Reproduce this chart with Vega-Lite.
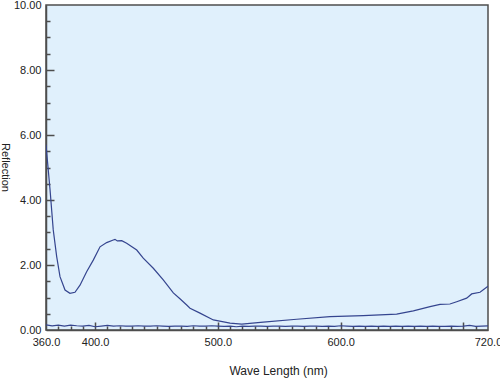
{
  "$schema": "https://vega.github.io/schema/vega-lite/v6.json",
  "width": 442,
  "height": 325,
  "autosize": {"type": "none"},
  "padding": {"left": 46, "top": 5, "right": 12, "bottom": 48},
  "background": "white",
  "config": {
    "view": {"fill": "#e0f0fc", "stroke": "#4d4d4d", "strokeWidth": 1.5},
    "font": "Liberation Sans",
    "axis": {
      "labelFont": "Liberation Sans",
      "titleFont": "Liberation Sans",
      "labelFontSize": 11,
      "titleFontSize": 11,
      "titleFontWeight": "normal",
      "labelColor": "#222222",
      "titleColor": "#222222",
      "labelFlush": false,
      "labelOverlap": false,
      "grid": false,
      "domainColor": "#4d4d4d",
      "domainWidth": 1.5,
      "tickColor": "#4d4d4d",
      "tickWidth": 1.5
    }
  },
  "data": {
    "values": [
      {"s": "a", "nm": 360, "v": 5.7},
      {"s": "a", "nm": 363.3, "v": 4.31},
      {"s": "a", "nm": 365.9, "v": 3.08},
      {"s": "a", "nm": 368.7, "v": 2.26},
      {"s": "a", "nm": 371.4, "v": 1.64},
      {"s": "a", "nm": 375.5, "v": 1.23},
      {"s": "a", "nm": 379.5, "v": 1.13},
      {"s": "a", "nm": 383.6, "v": 1.16},
      {"s": "a", "nm": 387.7, "v": 1.38},
      {"s": "a", "nm": 393.1, "v": 1.79},
      {"s": "a", "nm": 398.5, "v": 2.15},
      {"s": "a", "nm": 404.0, "v": 2.56},
      {"s": "a", "nm": 409.4, "v": 2.69},
      {"s": "a", "nm": 414.8, "v": 2.77},
      {"s": "a", "nm": 416.2, "v": 2.79},
      {"s": "a", "nm": 418.1, "v": 2.74},
      {"s": "a", "nm": 421.7, "v": 2.75},
      {"s": "a", "nm": 425.7, "v": 2.67},
      {"s": "a", "nm": 433.9, "v": 2.46},
      {"s": "a", "nm": 439.2, "v": 2.21},
      {"s": "a", "nm": 447.4, "v": 1.9},
      {"s": "a", "nm": 455.5, "v": 1.54},
      {"s": "a", "nm": 463.7, "v": 1.14},
      {"s": "a", "nm": 469.1, "v": 0.96},
      {"s": "a", "nm": 474.6, "v": 0.77},
      {"s": "a", "nm": 477.3, "v": 0.67},
      {"s": "a", "nm": 485.4, "v": 0.52},
      {"s": "a", "nm": 496.3, "v": 0.31},
      {"s": "a", "nm": 509.9, "v": 0.21},
      {"s": "a", "nm": 519.4, "v": 0.18},
      {"s": "a", "nm": 537.0, "v": 0.24},
      {"s": "a", "nm": 564.2, "v": 0.33},
      {"s": "a", "nm": 591.3, "v": 0.41},
      {"s": "a", "nm": 618.4, "v": 0.44},
      {"s": "a", "nm": 645.6, "v": 0.49},
      {"s": "a", "nm": 659.2, "v": 0.59},
      {"s": "a", "nm": 672.8, "v": 0.72},
      {"s": "a", "nm": 680.9, "v": 0.79},
      {"s": "a", "nm": 689.0, "v": 0.8},
      {"s": "a", "nm": 694.5, "v": 0.87},
      {"s": "a", "nm": 702.6, "v": 0.98},
      {"s": "a", "nm": 706.7, "v": 1.11},
      {"s": "a", "nm": 713.5, "v": 1.16},
      {"s": "a", "nm": 720, "v": 1.35},
      {"s": "b", "nm": 360, "v": 0.16},
      {"s": "b", "nm": 365, "v": 0.13},
      {"s": "b", "nm": 370, "v": 0.15},
      {"s": "b", "nm": 375, "v": 0.12},
      {"s": "b", "nm": 380, "v": 0.15},
      {"s": "b", "nm": 385, "v": 0.13},
      {"s": "b", "nm": 390, "v": 0.12},
      {"s": "b", "nm": 395, "v": 0.14},
      {"s": "b", "nm": 400, "v": 0.1},
      {"s": "b", "nm": 405, "v": 0.12},
      {"s": "b", "nm": 410, "v": 0.14},
      {"s": "b", "nm": 415, "v": 0.12},
      {"s": "b", "nm": 420, "v": 0.13},
      {"s": "b", "nm": 425, "v": 0.12},
      {"s": "b", "nm": 430, "v": 0.12},
      {"s": "b", "nm": 435, "v": 0.13},
      {"s": "b", "nm": 440, "v": 0.12},
      {"s": "b", "nm": 445, "v": 0.12},
      {"s": "b", "nm": 450, "v": 0.13},
      {"s": "b", "nm": 455, "v": 0.12},
      {"s": "b", "nm": 460, "v": 0.11},
      {"s": "b", "nm": 465, "v": 0.12},
      {"s": "b", "nm": 470, "v": 0.12},
      {"s": "b", "nm": 475, "v": 0.11},
      {"s": "b", "nm": 480, "v": 0.13},
      {"s": "b", "nm": 485, "v": 0.12},
      {"s": "b", "nm": 490, "v": 0.12},
      {"s": "b", "nm": 495, "v": 0.13},
      {"s": "b", "nm": 500, "v": 0.12},
      {"s": "b", "nm": 505, "v": 0.11},
      {"s": "b", "nm": 510, "v": 0.12},
      {"s": "b", "nm": 515, "v": 0.1},
      {"s": "b", "nm": 520, "v": 0.12},
      {"s": "b", "nm": 525, "v": 0.11},
      {"s": "b", "nm": 530, "v": 0.12},
      {"s": "b", "nm": 535, "v": 0.12},
      {"s": "b", "nm": 540, "v": 0.11},
      {"s": "b", "nm": 545, "v": 0.12},
      {"s": "b", "nm": 550, "v": 0.12},
      {"s": "b", "nm": 555, "v": 0.11},
      {"s": "b", "nm": 560, "v": 0.12},
      {"s": "b", "nm": 565, "v": 0.12},
      {"s": "b", "nm": 570, "v": 0.11},
      {"s": "b", "nm": 575, "v": 0.12},
      {"s": "b", "nm": 580, "v": 0.12},
      {"s": "b", "nm": 585, "v": 0.11},
      {"s": "b", "nm": 590, "v": 0.12},
      {"s": "b", "nm": 595, "v": 0.11},
      {"s": "b", "nm": 600, "v": 0.13},
      {"s": "b", "nm": 605, "v": 0.12},
      {"s": "b", "nm": 610, "v": 0.11},
      {"s": "b", "nm": 615, "v": 0.12},
      {"s": "b", "nm": 620, "v": 0.11},
      {"s": "b", "nm": 625, "v": 0.12},
      {"s": "b", "nm": 630, "v": 0.11},
      {"s": "b", "nm": 635, "v": 0.12},
      {"s": "b", "nm": 640, "v": 0.11},
      {"s": "b", "nm": 645, "v": 0.12},
      {"s": "b", "nm": 650, "v": 0.11},
      {"s": "b", "nm": 655, "v": 0.12},
      {"s": "b", "nm": 660, "v": 0.11},
      {"s": "b", "nm": 665, "v": 0.12},
      {"s": "b", "nm": 670, "v": 0.11},
      {"s": "b", "nm": 675, "v": 0.12},
      {"s": "b", "nm": 680, "v": 0.11},
      {"s": "b", "nm": 685, "v": 0.11},
      {"s": "b", "nm": 690, "v": 0.12},
      {"s": "b", "nm": 695, "v": 0.11},
      {"s": "b", "nm": 700, "v": 0.12},
      {"s": "b", "nm": 705, "v": 0.14},
      {"s": "b", "nm": 710, "v": 0.11},
      {"s": "b", "nm": 715, "v": 0.12},
      {"s": "b", "nm": 720, "v": 0.13}
    ]
  },
  "layer": [
    {
      "mark": {"type": "line", "opacity": 0},
      "encoding": {
        "x": {"field": "nm", "type": "quantitative", "scale": {"domain": [360, 720], "nice": false, "zero": false},
              "axis": {"orient": "bottom", "values": [370,380,390,410,420,430,440,450,460,470,480,490,510,520,530,540,550,560,570,580,590,610,620,630,640,650,660,670,680,690,710], "labels": false, "domain": false, "ticks": true, "tickSize": -4, "title": null}},
        "y": {"field": "v", "type": "quantitative", "scale": {"domain": [0, 10], "nice": false},
              "axis": {"orient": "left", "values": [0.5,1,1.5,2.5,3,3.5,4.5,5,5.5,6.5,7,7.5,8.5,9,9.5], "labels": false, "domain": false, "ticks": true, "tickSize": -4, "title": null}},
        "detail": {"field": "s"}
      }
    },
    {
      "mark": {"type": "line", "opacity": 0},
      "encoding": {
        "x": {"field": "nm", "type": "quantitative",
              "axis": {"orient": "bottom", "values": [400, 500, 600, 700], "labels": false, "domain": false, "ticks": true, "tickSize": -8, "title": null}},
        "y": {"field": "v", "type": "quantitative",
              "axis": {"orient": "left", "values": [2, 4, 6, 8], "labels": false, "domain": false, "ticks": true, "tickSize": -8, "title": null}},
        "detail": {"field": "s"}
      }
    },
    {
      "mark": {"type": "line", "color": "#35458f", "strokeWidth": 1.2, "clip": true},
      "encoding": {
        "x": {"field": "nm", "type": "quantitative",
              "axis": {"orient": "bottom", "values": [360, 400, 500, 600, 720], "format": ".1f", "ticks": false, "labelPadding": 6,
                       "title": "Wave Length (nm)", "titleFontSize": 12, "titleX": 232, "titleY": 44, "titleAnchor": null, "titleAlign": "center", "titleBaseline": "alphabetic"}},
        "y": {"field": "v", "type": "quantitative",
              "axis": {"orient": "left", "values": [0, 2, 4, 6, 8, 10], "format": ".2f", "ticks": false, "labelPadding": 5,
                       "title": "Reflection", "titleAngle": 90, "titleX": -45, "titleY": 162, "titleAlign": "center", "titleBaseline": "alphabetic"}},
        "detail": {"field": "s"}
      }
    }
  ],
  "resolve": {"axis": {"x": "independent", "y": "independent"}}
}
